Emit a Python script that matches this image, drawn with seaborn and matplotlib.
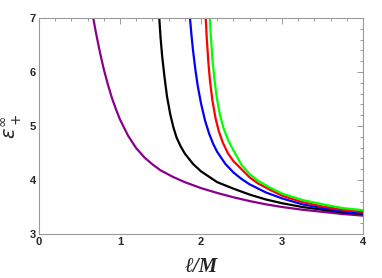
import matplotlib
matplotlib.use("Agg")
import matplotlib.pyplot as plt
import seaborn as sns
import pandas as pd
from matplotlib.ticker import MultipleLocator

# Data
purple_x = [0.67, 0.70, 0.75, 0.80, 0.85, 0.90, 0.95, 1.00, 1.10, 1.20, 1.30, 1.40, 1.50,
            1.65, 1.80, 2.00, 2.20, 2.40, 2.60, 2.80, 3.00, 3.25, 3.50, 3.75, 4.00]
purple_y = [7.00, 6.75, 6.38, 6.05, 5.77, 5.52, 5.31, 5.12, 4.82, 4.59, 4.42, 4.29, 4.18,
            4.06, 3.96, 3.85, 3.76, 3.68, 3.61, 3.55, 3.50, 3.45, 3.41, 3.37, 3.34]

black_x = [1.485, 1.50, 1.52, 1.55, 1.58, 1.62, 1.66, 1.70, 1.75, 1.80, 1.90, 2.00, 2.10,
           2.20, 2.40, 2.60, 2.80, 3.00, 3.25, 3.50, 3.75, 4.00]
black_y = [7.00, 6.65, 6.30, 5.90, 5.55, 5.22, 4.97, 4.78, 4.62, 4.49, 4.30, 4.16, 4.06,
           3.96, 3.84, 3.73, 3.64, 3.57, 3.50, 3.45, 3.40, 3.37]

blue_x = [1.864, 1.88, 1.90, 1.93, 1.96, 2.00, 2.05, 2.10, 2.15, 2.20, 2.30, 2.40, 2.50,
          2.60, 2.80, 3.00, 3.25, 3.50, 3.75, 4.00]
blue_y = [7.00, 6.72, 6.42, 6.05, 5.74, 5.42, 5.10, 4.86, 4.67, 4.52, 4.30, 4.14, 4.02,
          3.92, 3.77, 3.66, 3.55, 3.48, 3.42, 3.38]

red_x = [2.058, 2.07, 2.09, 2.11, 2.14, 2.18, 2.22, 2.27, 2.33, 2.40, 2.50, 2.60, 2.70,
         2.85, 3.00, 3.25, 3.50, 3.75, 4.00]
red_y = [7.00, 6.65, 6.20, 5.85, 5.48, 5.14, 4.90, 4.69, 4.50, 4.35, 4.20, 4.05, 3.94,
         3.82, 3.71, 3.59, 3.51, 3.45, 3.41]

green_x = [2.11, 2.12, 2.14, 2.165, 2.195, 2.235, 2.28, 2.34, 2.40, 2.50, 2.60, 2.70,
           2.85, 3.00, 3.25, 3.50, 3.75, 4.00]
green_y = [7.00, 6.70, 6.25, 5.88, 5.52, 5.20, 4.95, 4.72, 4.55, 4.28, 4.11, 3.99,
           3.86, 3.75, 3.63, 3.55, 3.48, 3.44]

series = [
    ("purple", purple_x, purple_y),
    ("black", black_x, black_y),
    ("blue", blue_x, blue_y),
    ("red", red_x, red_y),
    ("green", green_x, green_y),
]
colors = {"purple": "#8a008a", "black": "#000000", "blue": "#0000ff",
          "red": "#ff0000", "green": "#00ff00"}

rows = []
for name, xs, ys in series:
    for x, y in zip(xs, ys):
        rows.append({"curve": name, "x": x, "y": y})
df = pd.DataFrame(rows)

sns.set_style("white")
plt.rcParams["font.family"] = ["Liberation Sans", "DejaVu Sans"]

fig = plt.figure(figsize=(3.82, 2.78), dpi=100)
ax = fig.add_axes([39 / 382, 1 - 234 / 278, (363 - 39) / 382, (234 - 18) / 278])

sns.lineplot(data=df, x="x", y="y", hue="curve", palette=colors, sort=False,
             estimator=None, units="curve", linewidth=1.6, legend=False, ax=ax)

ax.set_xlim(0, 4)
ax.set_ylim(3, 7)
ax.xaxis.set_major_locator(MultipleLocator(1))
ax.xaxis.set_minor_locator(MultipleLocator(0.2))
ax.yaxis.set_major_locator(MultipleLocator(1))
ax.yaxis.set_minor_locator(MultipleLocator(0.2))

frame_col = "#9a9a9a"
for s in ax.spines.values():
    s.set_visible(True)
    s.set_color(frame_col)
    s.set_linewidth(0.8)

ax.tick_params(which="both", direction="in", top=True, right=True,
               color=frame_col, width=0.7, labelsize=8, pad=2)
ax.tick_params(which="major", length=4)
ax.tick_params(which="minor", length=2)
for lab in ax.get_xticklabels() + ax.get_yticklabels():
    lab.set_fontweight("bold")

ax.set_xlabel("ℓ/M", fontsize=15, fontweight="bold", fontstyle="italic",
              family=["Liberation Serif", "DejaVu Serif"], labelpad=7)
ax.set_ylabel(r"$\epsilon_+^\infty$", fontsize=14, labelpad=4)

fig.savefig("out.png", dpi=100)
